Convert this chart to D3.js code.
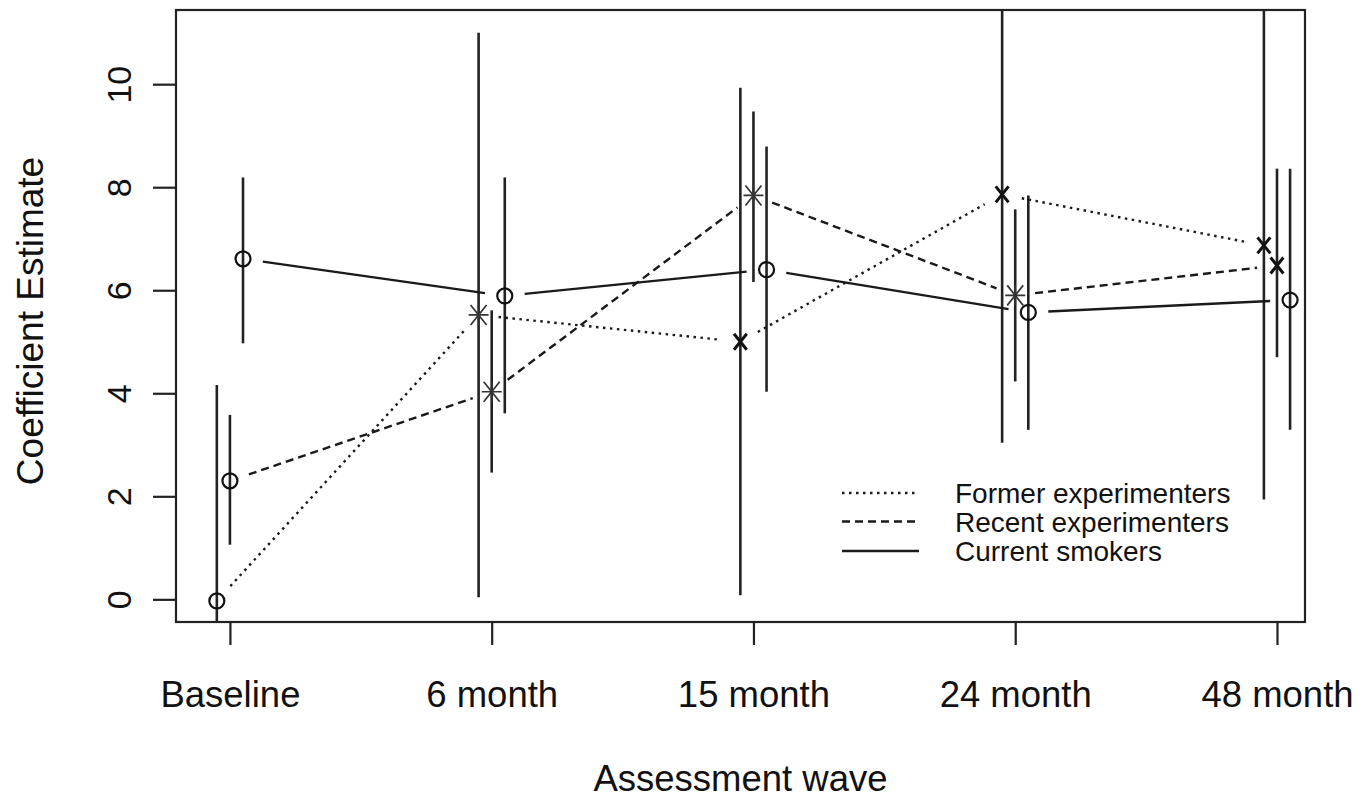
<!DOCTYPE html>
<html lang="en">
<head>
<meta charset="utf-8">
<title>Coefficient estimates by assessment wave</title>
<script src="https://d3js.org/d3.v7.min.js"></script>
<style>
    body { margin: 0; background: #fff; }
    svg text { font-family: "Liberation Sans", Arial, sans-serif; fill: #111; }
    .box { fill: none; stroke: #222; stroke-width: 2.2px; }
    .axis path { display: none; }
    .axis line { stroke: #222; stroke-width: 2.2px; }
    .conn { fill: none; stroke: #1a1a1a; stroke-width: 2.4px; }
    .bar { stroke: #222; stroke-width: 2.6px; }
    .mark { fill: none; stroke: #111; stroke-width: 2.2px; }
</style>
</head>
<body>
<svg width="1368" height="800"></svg>
<script>
    // waves on the x axis
    var waves = ["Baseline", "6 month", "15 month", "24 month", "48 month"];
    var yTicks = [0, 2, 4, 6, 8, 10];

    // estimates and interval ends
    var formerEst = [-0.03, 5.52, 5.00, 7.86, 6.87];
    var formerLo  = [-4.20, 0.04, 0.08, 3.04, 1.94];
    var formerHi  = [4.16, 11.00, 9.93, 12.70, 11.80];
    var formerPch = ["circle", "asterisk", "cross", "cross", "cross"];

    var recentEst = [2.30, 4.03, 7.84, 5.90, 6.48];
    var recentLo  = [1.06, 2.46, 6.16, 4.23, 4.70];
    var recentHi  = [3.58, 5.61, 9.47, 7.57, 8.36];
    var recentPch = ["circle", "asterisk", "asterisk", "asterisk", "cross"];

    var currentEst = [6.61, 5.89, 6.40, 5.57, 5.81];
    var currentLo  = [4.97, 3.61, 4.03, 3.29, 3.29];
    var currentHi  = [8.19, 8.19, 8.79, 7.84, 8.36];
    var currentPch = ["circle", "circle", "circle", "circle", "circle"];

    var series = [
        {name: "Former experimenters", est: formerEst, lo: formerLo, hi: formerHi, pch: formerPch, dodge: -0.05, dash: "2.5,4.5"},
        {name: "Recent experimenters", est: recentEst, lo: recentLo, hi: recentHi, pch: recentPch, dodge: 0, dash: "8,5"},
        {name: "Current smokers", est: currentEst, lo: currentLo, hi: currentHi, pch: currentPch, dodge: 0.05, dash: null}
    ];

    var svg = d3.select("svg"),
        margin = {top: 10, left: 176},
        width = 1129,
        height = 612,
        g = svg.append("g").attr("transform", "translate(" + margin.left + "," + margin.top + ")");

    var x = d3.scaleLinear().domain([0.794, 5.107]).range([0, width]),
        y = d3.scaleLinear().domain([-0.44, 11.44]).range([height, 0]);

    svg.append("defs").append("clipPath").attr("id", "clip")
        .append("rect").attr("width", width).attr("height", height);

    var plot = g.append("g").attr("clip-path", "url(#clip)");

    // error bars
    series.forEach(function(s) {
        plot.selectAll(null)
            .data(s.est.map(function(d, i) { return {i: i, lo: s.lo[i], hi: s.hi[i]}; }))
            .enter().append("line")
            .attr("class", "bar")
            .attr("x1", function(d) { return x(d.i + 1 + s.dodge); })
            .attr("x2", function(d) { return x(d.i + 1 + s.dodge); })
            .attr("y1", function(d) { return y(d.lo); })
            .attr("y2", function(d) { return y(d.hi); });
    });

    // connecting lines, type = "b" style with a gap around each point
    var gap = 20;
    series.forEach(function(s) {
        var pts = s.est.map(function(v, i) { return [x(i + 1 + s.dodge), y(v)]; });
        for (var i = 0; i < pts.length - 1; i++) {
            var a = pts[i], b = pts[i + 1],
                dx = b[0] - a[0], dy = b[1] - a[1],
                len = Math.sqrt(dx * dx + dy * dy),
                ux = dx / len, uy = dy / len;
            plot.append("line")
                .attr("class", "conn")
                .attr("x1", a[0] + ux * gap).attr("y1", a[1] + uy * gap)
                .attr("x2", b[0] - ux * gap).attr("y2", b[1] - uy * gap)
                .attr("stroke-dasharray", s.dash);
        }
    });

    // point symbols
    function symbol(sel, kind) {
        if (kind === "circle") {
            sel.append("circle").attr("class", "mark").attr("r", 7.5);
        } else {
            var r = kind === "cross" ? 8 : 10;
            var p = "M" + (-r * 0.8) + "," + (-r) + "L" + (r * 0.8) + "," + r +
                    "M" + (-r * 0.8) + "," + r + "L" + (r * 0.8) + "," + (-r);
            if (kind === "asterisk") p += "M" + (-r) + ",0L" + r + ",0M0," + (-r) + "L0," + r;
            sel.append("path").attr("class", "mark").attr("d", p)
                .style("stroke-width", kind === "cross" ? 3 : 1.7)
                .style("stroke", kind === "cross" ? "#111" : "#333");
        }
    }
    series.forEach(function(s) {
        s.est.forEach(function(v, i) {
            var m = plot.append("g")
                .attr("transform", "translate(" + x(i + 1 + s.dodge) + "," + y(v) + ")");
            symbol(m, s.pch[i]);
        });
    });

    // frame
    g.append("rect").attr("class", "box").attr("width", width).attr("height", height);

    // axes
    var xAxis = g.append("g")
        .attr("class", "axis")
        .attr("transform", "translate(0," + height + ")")
        .call(d3.axisBottom(x).tickValues([1, 2, 3, 4, 5])
            .tickFormat(function(d) { return waves[d - 1]; }).tickSize(23));
    xAxis.selectAll("text")
        .attr("y", 85).attr("dy", null)
        .style("font-size", "36.5px");

    var yAxis = g.append("g")
        .attr("class", "axis")
        .call(d3.axisLeft(y).tickValues(yTicks).tickSize(23));
    yAxis.selectAll("text")
        .attr("x", null).attr("dy", null)
        .attr("text-anchor", "middle")
        .attr("transform", "translate(-45,0) rotate(-90)")
        .style("font-size", "34px");

    svg.append("text")
        .attr("x", margin.left + width / 2).attr("y", 791)
        .attr("text-anchor", "middle")
        .style("font-size", "36.5px")
        .text("Assessment wave");

    svg.append("text")
        .attr("transform", "translate(43," + (margin.top + height / 2 + 5) + ") rotate(-90)")
        .attr("text-anchor", "middle")
        .style("font-size", "37px")
        .text("Coefficient Estimate");

    // legend
    var legend = svg.append("g").selectAll("g")
        .data(series)
        .enter().append("g")
        .attr("transform", function(d, i) { return "translate(842," + [493, 521.5, 551][i] + ")"; });
    legend.append("line")
        .attr("class", "conn")
        .attr("x1", 0).attr("x2", 77)
        .attr("stroke-dasharray", function(d) { return d.dash; });
    legend.append("text")
        .attr("x", 113).attr("dy", "0.36em")
        .style("font-size", "28px")
        .text(function(d) { return d.name; });
</script>
</body>
</html>
